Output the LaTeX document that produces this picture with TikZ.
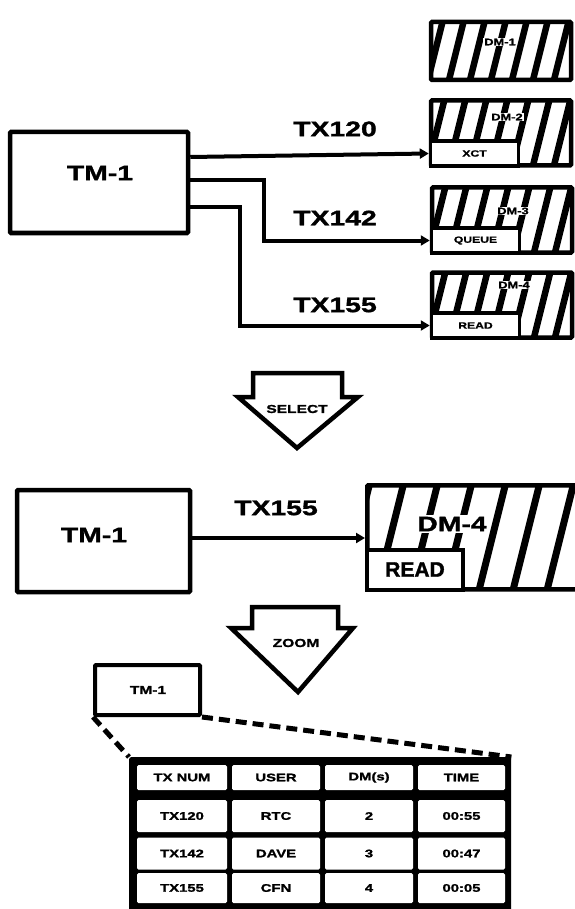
\documentclass[tikz,border=0pt]{standalone}
\usepackage{fontspec}
\setmainfont{Liberation Sans}
\newfontfamily\hv{Liberation Sans Bold}[FakeStretch=1.35,FakeBold=1.5]
\newfontfamily\hvn{Liberation Sans Bold}[FakeBold=1.5]
\usetikzlibrary{arrows.meta,calc}
\tikzset{
  hatch/.style 2 args={path picture={
    \foreach \k in {0,...,14}
      \draw[line width=#2] ([xshift=\k*#1-24pt]path picture bounding box.south west) -- ++(32,-128);}},
  dmbox/.style={draw, line width=4.5pt, rounded corners=1pt, fill=white, hatch={21pt}{6.5pt}, inner sep=0pt},
  bigdm/.style={draw, line width=4.5pt, rounded corners=1pt, fill=white, hatch={34pt}{7pt}, inner sep=0pt},
  lblbox/.style={draw, line width=3.5pt, fill=white, inner sep=0pt, anchor=south west, font=\hv\fontsize{9}{10}\selectfont},
  dmtxt/.style={fill=white, inner sep=1pt, font=\hv\fontsize{9.5}{10}\selectfont},
  tmbox/.style={draw, line width=4.5pt, rounded corners=1pt, inner sep=0pt},
  bigtxt/.style={font=\hv\fontsize{21}{24}\selectfont, inner sep=0pt},
  smalltxt/.style={font=\hv\fontsize{11.5}{12}\selectfont, inner sep=0pt},
  conn/.style={line width=4pt, -{Triangle[length=9pt,width=10pt]}},
  bigarrow/.style={draw, line width=4.5pt, line join=miter, fill=white},
  cell/.style={fill=white, rounded corners=1.5pt, inner sep=0pt, font=\hv\fontsize{11}{12}\selectfont},
  zoomline/.style={line width=5pt, dash pattern=on 11pt off 6pt}
}
\begin{document}
\begin{tikzpicture}[x=1pt,y=-1pt]
\useasboundingbox (0,0) rectangle (574,909);

% ---------- top section ----------
\node[dmbox, minimum width=140pt, minimum height=58pt] (dm1) at (501,51) {};
\node[dmtxt] (dm1t) at (500,42) {DM-1};

\node[dmbox, minimum width=140pt, minimum height=65pt] (dm2) at (501,133) {};
\node[dmtxt] (dm2t) at (507,117) {DM-2};
\node[lblbox, minimum width=88pt, minimum height=25pt] (xct) at (dm2.south west) {XCT};

\node[dmbox, minimum width=140pt, minimum height=65pt] (dm3) at (502,220) {};
\node[dmtxt] (dm3t) at (513,211) {DM-3};
\node[lblbox, minimum width=88pt, minimum height=25pt] (queue) at (dm3.south west) {QUEUE};

\node[dmbox, minimum width=140pt, minimum height=65pt] (dm4) at (502,305) {};
\node[dmtxt] (dm4t) at (514,285) {DM-4};
\node[lblbox, minimum width=88pt, minimum height=25pt] (read) at (dm4.south west) {READ};

\node[tmbox, minimum width=178pt, minimum height=101pt] (tm1) at (99,182.5) {};
\node[bigtxt] (tm1t) at (100,173) {TM-1};

\draw[conn] ([yshift=25.5pt]tm1.east) -- (xct.west);
\draw[conn] ([yshift=2.5pt]tm1.east) -- ++(74,0) |- (queue.west);
\draw[conn] ([yshift=-24.5pt]tm1.east) -- ++(50,0) |- (read.west);

\node[bigtxt] (l120) at (335,129) {TX120};
\node[bigtxt] (l142) at (335,218) {TX142};
\node[bigtxt] (l155) at (335,305) {TX155};

% ---------- select arrow ----------
\path[bigarrow] (253,373) -- (342,373) -- (342,397) -- (358,397) -- (297,448) -- (238,397) -- (253,397) -- cycle;
\node[smalltxt] (sel) at (297,409) {SELECT};

% ---------- middle section ----------
\node[tmbox, minimum width=173pt, minimum height=102pt] (tm1b) at (103.5,541) {};
\node[bigtxt] (tm1bt) at (94,535) {TM-1};

\node[bigdm, minimum width=230pt, minimum height=104pt, anchor=north west] (dm4b) at (365,483) {};
\node[fill=white, inner sep=2pt, font=\hv\fontsize{21}{24}\selectfont] (dm4bt) at (452,524) {DM-4};
\node[lblbox, line width=4pt, minimum width=96pt, minimum height=40pt, font=\hvn\fontsize{21}{24}\selectfont] (readb) at (dm4b.south west) {READ};

\draw[conn] ([yshift=3pt]tm1b.east) -- ([yshift=3pt]tm1b.east -| dm4b.west);
\node[bigtxt] (l155b) at (276,508) {TX155};

% ---------- zoom arrow ----------
\path[bigarrow] (252,607) -- (338,607) -- (338,628) -- (353,628) -- (298,692) -- (231,628) -- (252,628) -- cycle;
\node[smalltxt] (zm) at (296,643) {ZOOM};

% ---------- zoomed table ----------
\node[tmbox, line width=4pt, minimum width=105pt, minimum height=50pt] (tms) at (147.5,690) {};
\node[smalltxt] (tmst) at (148,690) {TM-1};

\node[fill=black, rounded corners=2pt, minimum width=382pt, minimum height=154pt, inner sep=0pt, anchor=north west] (tbl) at (129,757) {};

\draw[zoomline] (tms.south west) -- (tbl.north west);
\draw[zoomline] (tms.south east) -- (tbl.north east);

\foreach \r/\y/\h in {0/777.5/25,1/816/32,2/853.5/32,3/888/30}{
  \node[cell, minimum width=90pt, minimum height=\h pt] (c\r a) at (182,\y) {};
  \node[cell, minimum width=88pt, minimum height=\h pt] (c\r b) at (276,\y) {};
  \node[cell, minimum width=88pt, minimum height=\h pt] (c\r c) at (369,\y) {};
  \node[cell, minimum width=87pt, minimum height=\h pt] (c\r d) at (461.5,\y) {};
}
\node[cell] at (c0a) {TX NUM};
\node[cell] at (c0b) {USER};
\node[cell] at (c0c) {DM(s)};
\node[cell] at (c0d) {TIME};
\node[cell] at (c1a) {TX120};
\node[cell] at (c1b) {RTC};
\node[cell] at (c1c) {2};
\node[cell] at (c1d) {00:55};
\node[cell] at (c2a) {TX142};
\node[cell] at (c2b) {DAVE};
\node[cell] at (c2c) {3};
\node[cell] at (c2d) {00:47};
\node[cell] at (c3a) {TX155};
\node[cell] at (c3b) {CFN};
\node[cell] at (c3c) {4};
\node[cell] at (c3d) {00:05};
\end{tikzpicture}
\end{document}
